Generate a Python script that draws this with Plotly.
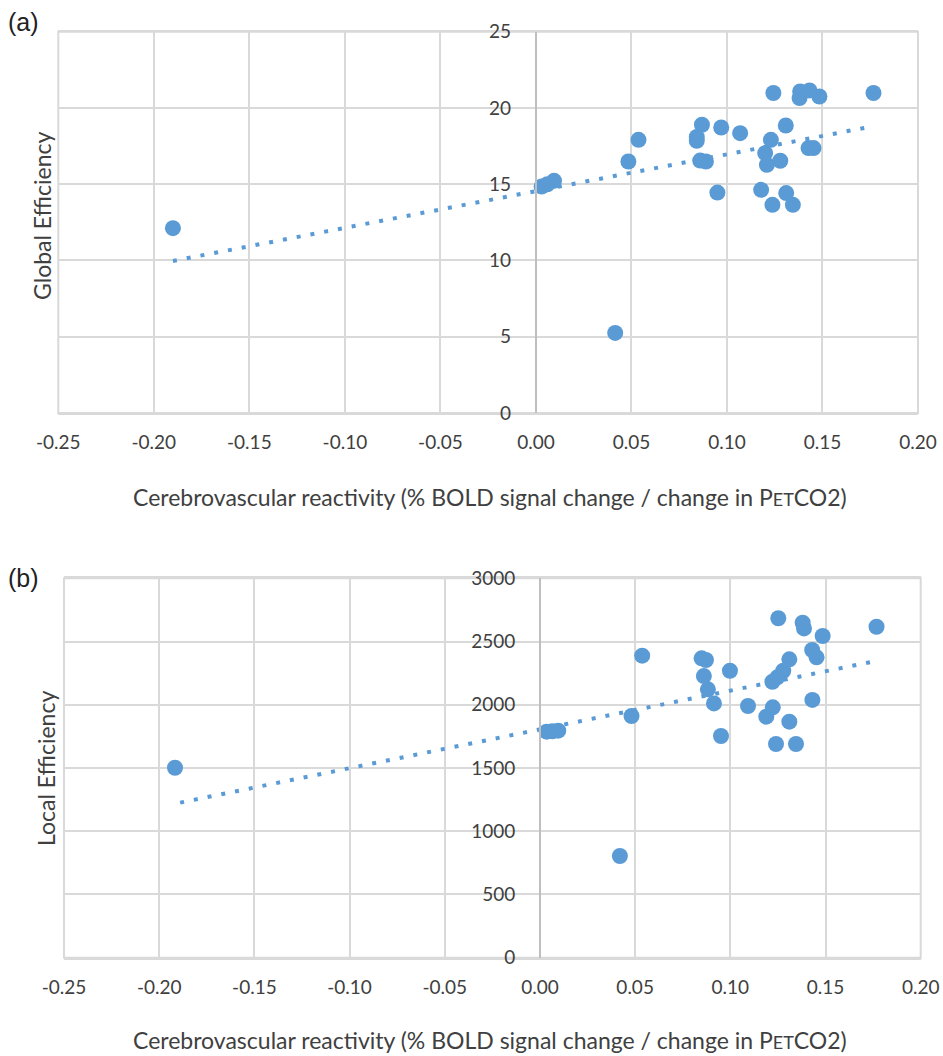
import plotly.graph_objects as go

# ---------------- data ----------------
cvr_a = [0.1243, 0.1383, 0.1432, 0.1380, 0.1484, 0.1767,
         0.0869, 0.0970, 0.1069, 0.1308,
         0.0842, 0.0842, 0.0537, 0.1230,
         0.1427, 0.1453, 0.1200,
         0.0860, 0.0890, 0.0484, 0.1279, 0.1209,
         0.0950, 0.1179, 0.1310, 0.1238, 0.1345,
         0.0030, 0.0060, 0.0095,
         -0.1900, 0.0415]
global_eff = [20.98, 21.08, 21.15, 20.65, 20.75, 20.98,
              18.90, 18.72, 18.35, 18.85,
              18.10, 17.85, 17.91, 17.91,
              17.37, 17.37, 17.04,
              16.55, 16.49, 16.49, 16.54, 16.27,
              14.45, 14.63, 14.42, 13.65, 13.65,
              14.85, 15.00, 15.22,
              12.12, 5.25]

cvr_b = [0.1252, 0.1380, 0.1387, 0.1485, 0.1768,
         0.0537, 0.0849, 0.0872, 0.1430, 0.1453,
         0.1310, 0.0998, 0.0861, 0.1278, 0.1247, 0.1221,
         0.0882, 0.0914, 0.1093, 0.1431, 0.1223,
         0.1189, 0.1310, 0.0481, 0.0951, 0.1240, 0.1345,
         0.0035, 0.0065, 0.0096,
         -0.1917, 0.0420]
local_eff = [2684, 2649, 2604, 2544, 2617,
             2388, 2367, 2354, 2433, 2375,
             2359, 2269, 2227, 2269, 2217, 2182,
             2122, 2011, 1990, 2038, 1980,
             1906, 1866, 1911, 1753, 1690, 1690,
             1787, 1790, 1795,
             1502, 804]

trend_x_a = [-0.190, 0.176]
trend_ge = [9.97, 18.79]
trend_x_b = [-0.189, 0.1765]
trend_le = [1226, 2346]

x_ticks = [-0.25, -0.20, -0.15, -0.10, -0.05, 0.00, 0.05, 0.10, 0.15, 0.20]
x_tick_labels = ["-0.25", "-0.20", "-0.15", "-0.10", "-0.05", "0.00", "0.05", "0.10", "0.15", "0.20"]
ge_ticks = [0, 5, 10, 15, 20, 25]
le_ticks = [0, 500, 1000, 1500, 2000, 2500, 3000]

x_title = "Cerebrovascular reactivity (% BOLD signal change / change in P<span style='font-size:18px'>ET</span>CO2)"

# ---------------- style ----------------
BLUE = "#5b9bd5"
GRID = "#d9d9d9"
AXIS = "#bfbfbf"
TXT = "#404040"
FONT = "Lato, 'Open Sans', sans-serif"
W, H = 943, 1056

fig = go.Figure()

fig.add_trace(go.Scatter(x=cvr_a, y=global_eff, mode="markers",
                         marker=dict(color=BLUE, size=16, line=dict(width=0)),
                         xaxis="x", yaxis="y", showlegend=False))
fig.add_trace(go.Scatter(x=trend_x_a, y=trend_ge, mode="lines",
                         line=dict(color=BLUE, width=4, dash="4px,10px"),
                         xaxis="x", yaxis="y", showlegend=False))
fig.add_trace(go.Scatter(x=cvr_b, y=local_eff, mode="markers",
                         marker=dict(color=BLUE, size=16, line=dict(width=0)),
                         xaxis="x2", yaxis="y2", showlegend=False))
fig.add_trace(go.Scatter(x=trend_x_b, y=trend_le, mode="lines",
                         line=dict(color=BLUE, width=4, dash="4px,10px"),
                         xaxis="x2", yaxis="y2", showlegend=False))

def xax(domain, anchor):
    return dict(domain=domain, anchor=anchor, range=[-0.25, 0.20], automargin=False,
                tickvals=x_ticks, ticktext=x_tick_labels,
                showgrid=True, gridcolor=GRID, gridwidth=2,
                zeroline=False, showline=True, linecolor=GRID, linewidth=2, mirror=True,
                ticks="", ticklabelstandoff=11,
                tickfont=dict(family=FONT, size=19, color=TXT))

def yax(domain, position, rng, ticks):
    return dict(domain=domain, anchor="free", position=position, range=rng, automargin=False,
                tickvals=ticks, showgrid=True, gridcolor=GRID, gridwidth=2,
                zeroline=False, showline=True, linecolor=AXIS, linewidth=2,
                ticks="", ticklabelstandoff=20,
                tickfont=dict(family=FONT, size=19, color=TXT))

xa_dom = [58.3 / W, 918 / W]
ya_dom = [1 - 413 / H, 1 - 31.7 / H]
xb_dom = [64 / W, 920.7 / W]
yb_dom = [1 - 957.7 / H, 1 - 578.3 / H]

border = dict(type="rect", x0=0, x1=1, y0=0, y1=1, line=dict(color=GRID, width=2),
              fillcolor="rgba(0,0,0,0)", layer="below")

fig.update_layout(
    width=W, height=H, margin=dict(l=0, r=0, t=0, b=0, autoexpand=False),
    paper_bgcolor="white", plot_bgcolor="white",
    xaxis=xax(xa_dom, "y"),
    yaxis=yax(ya_dom, 535.8 / W, [0, 25], ge_ticks),
    xaxis2=xax(xb_dom, "y2"),
    yaxis2=yax(yb_dom, 540.2 / W, [0, 3000], le_ticks),
    shapes=[dict(border, xref="x domain", yref="y domain"),
            dict(border, xref="x2 domain", yref="y2 domain")],
    annotations=[
        dict(text="(a)", x=6 / W, y=1 - 22 / H, xref="paper", yref="paper",
             xanchor="left", yanchor="middle", showarrow=False,
             font=dict(family="Liberation Sans, Arial, sans-serif", size=25, color="#222")),
        dict(text="(b)", x=6 / W, y=1 - 578 / H, xref="paper", yref="paper",
             xanchor="left", yanchor="middle", showarrow=False,
             font=dict(family="Liberation Sans, Arial, sans-serif", size=25, color="#222")),
        dict(text="Global Efficiency", x=42 / W, y=1 - 216 / H, xref="paper", yref="paper",
             textangle=-90, showarrow=False, xanchor="center", yanchor="middle",
             font=dict(family=FONT, size=23, color=TXT)),
        dict(text="Local Efficiency", x=46 / W, y=1 - 769 / H, xref="paper", yref="paper",
             textangle=-90, showarrow=False, xanchor="center", yanchor="middle",
             font=dict(family=FONT, size=23, color=TXT)),
        dict(text=x_title, x=490 / W, y=1 - 497 / H, xref="paper", yref="paper",
             showarrow=False, xanchor="center", yanchor="middle",
             font=dict(family=FONT, size=23, color=TXT)),
        dict(text=x_title, x=490 / W, y=1 - 1040 / H, xref="paper", yref="paper",
             showarrow=False, xanchor="center", yanchor="middle",
             font=dict(family=FONT, size=23, color=TXT)),
    ],
)

fig.write_html("out.html")
